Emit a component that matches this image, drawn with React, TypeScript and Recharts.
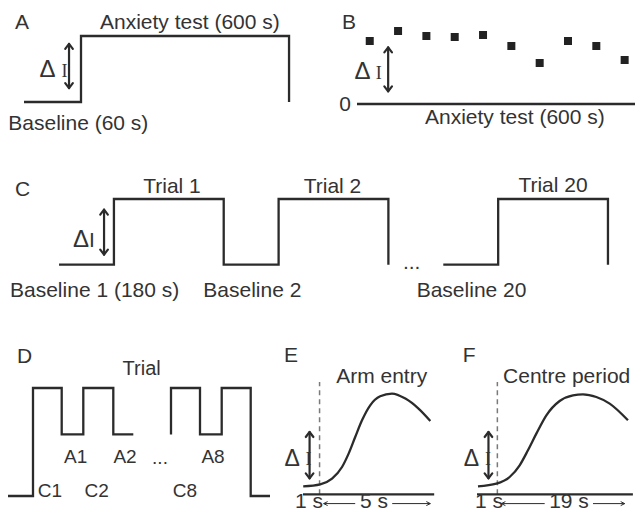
import React from 'react';
import { ComposedChart, Line, Scatter, XAxis, YAxis, ReferenceLine } from 'recharts';

const INK = '#2b2b2b';
const TEXT = '#333333';
const DASH = '#7a7a7a';
const SANS = '"Liberation Sans", Arial, Helvetica, sans-serif';
const SERIF = '"Liberation Serif", "Times New Roman", serif';

// ---------- Panel A: baseline then anxiety test (schematic time units, level a.u.)
const aTime = [-1, 0, 0, 3.65, 3.65];
const aLevel = [0, 0, 1, 1, 0];

// ---------- Panel B: ΔI per minute of the 600 s anxiety test
const bBins = [1, 2, 3, 4, 5, 6, 7, 8, 9, 10];
const bValues = [6.3, 7.3, 6.8, 6.7, 6.9, 5.8, 4.1, 6.3, 5.8, 4.4];

// ---------- Panel C: alternating baselines and trials (baseline = 1 unit, trial = 2 units)
const cTime1 = [0, 1, 1, 3, 3, 4, 4, 6, 6];
const cLevel1 = [0, 0, 1, 1, 0, 0, 1, 1, 0];
const cTime2 = [7, 8, 8, 10, 10];
const cLevel2 = [0, 0, 1, 1, 0];

// ---------- Panel D: centre / arm sequence within a trial (low = outside, mid = arm, high = centre)
const dTime1 = [0, 2.5, 2.5, 5.37, 5.37, 7.53, 7.53, 10.53, 10.53, 12.53];
const dLevel1 = [0, 0, 1, 1, 0.57, 0.57, 1, 1, 0.57, 0.57];
const dTime2 = [16.3, 16.3, 19.2, 19.2, 21.37, 21.37, 24.27, 24.27, 26.2];
const dLevel2 = [0.57, 1, 1, 0.57, 0.57, 1, 1, 0, 0];

// ---------- Panel E: response around arm entry (s, a.u.)
const eTime = [-0.72, 0.03, 0.55, 0.99, 1.28, 1.57, 1.87, 2.23, 2.67, 3.19, 3.78, 4.36, 4.88];
const eSignal = [0.8, 1.0, 1.57, 2.73, 4.07, 5.73, 7.4, 8.9, 9.8, 10.07, 9.57, 8.57, 7.33];

// ---------- Panel F: response around centre period (s, a.u.)
const fTime = [-2.79, -0.14, 1.77, 3.21, 4.4, 5.61, 7.05, 8.96, 10.88, 12.32, 14.24, 16.16, 18.79];
const fSignal = [0.8, 1.07, 1.73, 2.9, 4.4, 6.07, 7.9, 9.33, 9.9, 10.0, 9.73, 9.07, 7.4];

const zip = (ts: number[], vs: number[]) => ts.map((t, i) => ({ t, v: vs[i] }));

const aData = zip(aTime, aLevel);
const bData = zip(bBins, bValues);
const cData1 = zip(cTime1, cLevel1);
const cData2 = zip(cTime2, cLevel2);
const dData1 = zip(dTime1, dLevel1);
const dData2 = zip(dTime2, dLevel2);
const eData = zip(eTime, eSignal);
const fData = zip(fTime, fSignal);

type Pad = { l: number; r: number; t: number; b: number };

function Panel(props: {
  x0: number;
  x1: number;
  yTop: number;
  yBottom: number;
  xd: [number, number];
  yd: [number, number];
  pad?: Partial<Pad>;
  children: React.ReactNode;
}) {
  const p: Pad = { l: 12, r: 12, t: 12, b: 12, ...(props.pad || {}) };
  const width = props.x1 - props.x0 + p.l + p.r;
  const height = props.yBottom - props.yTop + p.t + p.b;
  return (
    <div style={{ position: 'absolute', left: props.x0 - p.l, top: props.yTop - p.t, width, height }}>
      <ComposedChart width={width} height={height} margin={{ top: p.t, right: p.r, bottom: p.b, left: p.l }}>
        <XAxis type="number" dataKey="t" domain={props.xd} hide />
        <YAxis type="number" dataKey="v" domain={props.yd} hide />
        {props.children}
      </ComposedChart>
    </div>
  );
}

const DoubleArrow = (p: any) => {
  const { x1, y1, y2 } = p;
  const top = Math.min(y1, y2);
  const bot = Math.max(y1, y2);
  const w = 3.8;
  const h = 5;
  return (
    <g stroke={INK} strokeWidth={2.2} fill="none" strokeLinecap="round" strokeLinejoin="round">
      <line x1={x1} y1={top} x2={x1} y2={bot} />
      <polyline points={`${x1 - w},${top + h} ${x1},${top} ${x1 + w},${top + h}`} />
      <polyline points={`${x1 - w},${bot - h} ${x1},${bot} ${x1 + w},${bot - h}`} />
    </g>
  );
};

// single-headed horizontal arrow, head at (x2, y2)
const HArrow = (p: any) => {
  const { x1, y1, x2, y2 } = p;
  const dir = x2 > x1 ? 1 : -1;
  return (
    <g stroke={INK} strokeWidth={1} fill="none">
      <line x1={x1} y1={y1} x2={x2} y2={y2} />
      <polyline points={`${x2 - dir * 4},${y2 - 2} ${x2},${y2} ${x2 - dir * 4},${y2 + 2}`} />
    </g>
  );
};

const Square = (p: any) => <rect x={p.cx - 4} y={p.cy - 4} width={8} height={8} fill="#222" />;

const lineProps = {
  dataKey: 'v',
  type: 'linear' as const,
  stroke: INK,
  strokeWidth: 2.3,
  dot: false,
  activeDot: false,
  isAnimationActive: false,
};

function T(props: {
  x: number;
  y: number;
  a?: 'start' | 'middle' | 'end';
  s?: number;
  f?: string;
  children: React.ReactNode;
}) {
  return (
    <text x={props.x} y={props.y} textAnchor={props.a || 'start'} fontSize={props.s || 21} fontFamily={props.f || SANS} fill={TEXT}>
      {props.children}
    </text>
  );
}

export default function App() {
  return (
    <div style={{ position: 'absolute', left: 0, top: 0, width: 635, height: 513, overflow: 'hidden', background: '#fff' }}>
      {/* A */}
      <Panel x0={24} x1={289.05} yTop={36} yBottom={102} xd={[-1, 3.65]} yd={[0, 1]}>
        <Line {...lineProps} data={aData} />
        <ReferenceLine segment={[{ x: -0.21, y: 0.21 }, { x: -0.21, y: 0.88 }]} shape={DoubleArrow} />
      </Panel>

      {/* B */}
      <Panel x0={356.6} x1={635.3} yTop={13.7} yBottom={103.7} xd={[0.55, 10.39]} yd={[0, 9]} pad={{ l: 40, r: 4 }}>
        <ReferenceLine
          y={0}
          stroke={INK}
          strokeWidth={2.3}
          label={{ value: '0', position: 'left', offset: 6, fill: TEXT, fontSize: 21, fontFamily: SANS }}
        />
        <Scatter data={bData} dataKey="v" shape={Square} isAnimationActive={false} />
        <ReferenceLine segment={[{ x: 1.65, y: 1.27 }, { x: 1.65, y: 5.67 }]} shape={DoubleArrow} />
      </Panel>

      {/* C */}
      <Panel x0={59.3} x1={608.3} yTop={199.3} yBottom={265} xd={[0, 10]} yd={[0, 1]}>
        <Line {...lineProps} data={cData1} />
        <Line {...lineProps} data={cData2} />
        <ReferenceLine segment={[{ x: 0.82, y: 0.152 }, { x: 0.82, y: 0.837 }]} shape={DoubleArrow} />
      </Panel>

      {/* D */}
      <Panel x0={8} x1={273} yTop={387.7} yBottom={495.7} xd={[0, 26.5]} yd={[0, 1]}>
        <Line {...lineProps} data={dData1} />
        <Line {...lineProps} data={dData2} />
      </Panel>

      {/* E */}
      <Panel x0={302.7} x1={433.9} yTop={381.7} yBottom={494} xd={[-0.73, 5.05]} yd={[0, 11.23]} pad={{ b: 16 }}>
        <ReferenceLine x={0} stroke={DASH} strokeWidth={1.5} strokeDasharray="5 4" />
        <ReferenceLine y={0} stroke={INK} strokeWidth={2.3} />
        <Line {...lineProps} type="monotone" data={eData} />
        <ReferenceLine segment={[{ x: -0.44, y: 1.6 }, { x: -0.44, y: 6.23 }]} shape={DoubleArrow} />
        <ReferenceLine ifOverflow="visible" segment={[{ x: 1.57, y: -0.93 }, { x: 0.18, y: -0.93 }]} shape={HArrow} />
        <ReferenceLine ifOverflow="visible" segment={[{ x: 3.2, y: -0.93 }, { x: 4.88, y: -0.93 }]} shape={HArrow} />
      </Panel>

      {/* F */}
      <Panel x0={477.3} x1={633.2} yTop={381.7} yBottom={494} xd={[-2.93, 19.5]} yd={[0, 11.23]} pad={{ b: 16 }}>
        <ReferenceLine x={0} stroke={DASH} strokeWidth={1.5} strokeDasharray="5 4" />
        <ReferenceLine y={0} stroke={INK} strokeWidth={2.3} />
        <Line {...lineProps} type="monotone" data={fData} />
        <ReferenceLine segment={[{ x: -1.28, y: 1.6 }, { x: -1.28, y: 6.23 }]} shape={DoubleArrow} />
        <ReferenceLine ifOverflow="visible" segment={[{ x: 6.81, y: -0.93 }, { x: 0.58, y: -0.93 }]} shape={HArrow} />
        <ReferenceLine ifOverflow="visible" segment={[{ x: 13.76, y: -0.93 }, { x: 18.32, y: -0.93 }]} shape={HArrow} />
      </Panel>

      <svg width={635} height={513} style={{ position: 'absolute', left: 0, top: 0, pointerEvents: 'none' }}>
        {/* A */}
        <T x={15} y={29}>A</T>
        <T x={100} y={28.5}>Anxiety test (600 s)</T>
        <T x={8.3} y={130}>Baseline (60 s)</T>
        <T x={39.5} y={76.5} s={24}>Δ</T>
        <T x={64.5} y={76.5} a="middle" f={SERIF} s={18}>I</T>

        {/* B */}
        <T x={354.5} y={78.8} s={24}>Δ</T>
        <T x={378.8} y={78.8} a="middle" f={SERIF} s={18}>I</T>
        <T x={342} y={28.5}>B</T>
        <T x={425} y={124}>Anxiety test (600 s)</T>

        {/* C */}
        <T x={15} y={196}>C</T>
        <T x={172} y={193.3} a="middle">Trial 1</T>
        <T x={332.5} y={193.3} a="middle">Trial 2</T>
        <T x={553} y={191.7} a="middle">Trial 20</T>
        <T x={10} y={296.7}>Baseline 1 (180 s)</T>
        <T x={203.3} y={296.7}>Baseline 2</T>
        <T x={416.7} y={296.7}>Baseline 20</T>
        <text x={73} y={247} fontFamily={SANS} fill={TEXT}>
          <tspan fontSize={24}>Δ</tspan>
          <tspan fontSize={21}>I</tspan>
        </text>
        <T x={411.7} y={268.5} a="middle">...</T>

        {/* D */}
        <T x={17} y={363}>D</T>
        <T x={141.7} y={375} a="middle" s={20}>Trial</T>
        <T x={75.7} y={463} a="middle" s={19}>A1</T>
        <T x={125} y={463} a="middle" s={19}>A2</T>
        <T x={160} y={464} a="middle" s={19}>...</T>
        <T x={213} y={463} a="middle" s={19}>A8</T>
        <T x={50} y={497} a="middle" s={19}>C1</T>
        <T x={96.7} y={497} a="middle" s={19}>C2</T>
        <T x={185} y={497} a="middle" s={19}>C8</T>

        {/* E */}
        <T x={284} y={362}>E</T>
        <T x={381.7} y={382.5} a="middle">Arm entry</T>
        <T x={284.5} y={465.5} s={23}>Δ</T>
        <T x={308.5} y={465} a="middle" f={SERIF} s={18}>I</T>
        <T x={295} y={508}>1 s</T>
        <T x={374} y={508} a="middle">5 s</T>

        {/* F */}
        <T x={462.7} y={362}>F</T>
        <T x={566.7} y={382.5} a="middle">Centre period</T>
        <T x={463.8} y={465.5} s={23}>Δ</T>
        <T x={488} y={465} a="middle" f={SERIF} s={18}>I</T>
        <T x={475} y={508}>1 s</T>
        <T x={569} y={508} a="middle">19 s</T>
      </svg>
    </div>
  );
}
